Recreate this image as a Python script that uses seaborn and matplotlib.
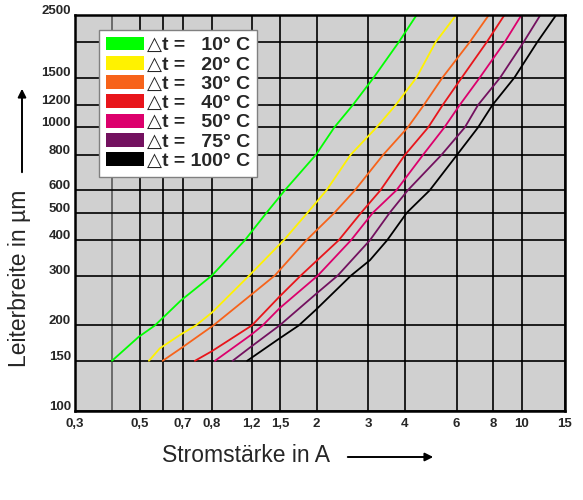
import pandas as pd
import matplotlib
matplotlib.use("Agg")
import matplotlib.pyplot as plt
from matplotlib.patches import Patch
from matplotlib.transforms import ScaledTranslation
import seaborn as sns

# legend labels and line colours, in legend order
LABELS = ["△t =   10° C", "△t =   20° C", "△t =   30° C", "△t =   40° C",
          "△t =   50° C", "△t =   75° C", "△t = 100° C"]
COLORS = ["#00ff00", "#fff200", "#f7631a", "#e8151b", "#dc006c", "#73115f", "#000000"]

# Stromstaerke (A) vs. Leiterbreite (um)
I_10 = [0.401, 0.494, 0.562, 0.689, 0.879, 1.139, 1.350, 1.558, 1.987, 2.297, 2.657, 3.13, 3.81, 4.39]
W_10 = [150, 182, 200, 245, 300, 400, 500, 600, 800, 1000, 1200, 1500, 2000, 2500]

I_20 = [0.536, 0.584, 0.689, 0.775, 0.879, 1.178, 1.546, 1.862, 2.161, 2.609, 3.20, 3.72, 4.38, 5.09, 5.99]
W_20 = [150, 166, 186, 200, 222, 300, 400, 500, 600, 800, 1000, 1200, 1500, 2000, 2500]

I_30 = [0.597, 0.689, 0.889, 1.193, 1.440, 1.847, 2.301, 2.70, 3.37, 4.09, 4.64, 5.37, 6.65, 7.74]
W_30 = [150, 166, 200, 256, 300, 400, 500, 600, 800, 1000, 1200, 1500, 2000, 2500]

I_40 = [0.769, 0.877, 1.203, 1.495, 1.766, 2.38, 2.836, 3.30, 4.00, 4.80, 5.38, 6.25, 7.60, 8.75]
W_40 = [150, 162, 200, 253, 300, 400, 500, 600, 800, 1000, 1200, 1500, 2000, 2500]

I_50 = [0.900, 1.193, 1.309, 1.495, 2.019, 2.62, 3.11, 3.74, 4.61, 5.45, 6.15, 7.20, 8.75, 10.0]
W_50 = [150, 185, 200, 230, 300, 400, 500, 600, 800, 1000, 1200, 1500, 2000, 2500]

I_75 = [1.034, 1.193, 1.495, 1.987, 2.36, 3.04, 3.55, 4.09, 5.33, 6.40, 7.10, 8.45, 10.15, 11.6]
W_75 = [150, 168, 200, 258, 300, 400, 500, 600, 800, 1000, 1200, 1500, 2000, 2500]

I_100 = [1.159, 1.495, 1.739, 1.987, 2.62, 3.04, 3.48, 4.06, 4.86, 6.02, 7.10, 7.95, 9.45, 11.3, 13.13]
W_100 = [150, 180, 200, 227, 300, 340, 400, 500, 600, 800, 1000, 1200, 1500, 2000, 2500]

# grid lines / tick labels as printed on the chart
X_TICKS = [0.3, 0.4, 0.5, 0.6, 0.7, 0.88, 1.2, 1.5, 2, 3, 4, 6, 8, 10, 14.05]
X_TICK_LABELS = ["0,3", "", "0,5", "", "0,7", "0,8", "1,2", "1,5", "2", "3", "4", "6", "8", "10", "15"]
Y_TICKS = [100, 150, 200, 300, 400, 500, 600, 800, 1000, 1200, 1500, 2000, 2500]
Y_TICK_LABELS = ["100", "150", "200", "300", "400", "500", "600", "800", "1000", "1200", "1500", "", "2500"]

currents = [I_10, I_20, I_30, I_40, I_50, I_75, I_100]
widths = [W_10, W_20, W_30, W_40, W_50, W_75, W_100]
df = pd.concat([pd.DataFrame({"strom": i, "breite": w, "dt": lab})
                for lab, i, w in zip(LABELS, currents, widths)], ignore_index=True)

sns.set_theme(style="white")
plt.rcParams["font.family"] = ["Liberation Sans", "DejaVu Sans"]

fig = plt.figure(figsize=(5.83, 5.0), dpi=100)
ax = fig.add_axes([0.1286, 0.1786, 0.8405, 0.792])
ax.set_facecolor("#d0d0d0")

sns.lineplot(data=df, x="strom", y="breite", hue="dt", hue_order=LABELS,
             palette=dict(zip(LABELS, COLORS)), estimator=None, lw=1.3,
             legend=False, ax=ax)

ax.set_xscale("log")
ax.set_yscale("log")
ax.set_xlim(0.3, 14.05)
ax.set_ylim(100, 2500)
ax.set_xticks(X_TICKS)
ax.set_xticklabels(X_TICK_LABELS)
ax.set_yticks(Y_TICKS)
ax.set_yticklabels(Y_TICK_LABELS)
ax.minorticks_off()
ax.set_xlabel("")
ax.set_ylabel("")

ax.set_axisbelow(True)
ax.grid(True, which="major", color="black", lw=1.2)
ax.get_xgridlines()[1].set_color("#5a5a5a")
for sp in ax.spines.values():
    sp.set_color("black")
    sp.set_linewidth(1.8)

ax.tick_params(axis="both", length=0, labelsize=9.5)
ax.tick_params(axis="x", pad=5)
ax.tick_params(axis="y", pad=3)
for lab in ax.get_xticklabels() + ax.get_yticklabels():
    lab.set_fontweight("bold")
for lab in ax.get_yticklabels():
    lab.set_transform(lab.get_transform() + ScaledTranslation(0, 4 / 72, fig.dpi_scale_trans))

handles = [Patch(facecolor=c, edgecolor="none", label=l) for l, c in zip(LABELS, COLORS)]
leg = ax.legend(handles=handles, loc="upper left", bbox_to_anchor=(0.049, 0.962),
                borderaxespad=0, prop=dict(family=["Liberation Sans", "DejaVu Sans"],
                                           weight="bold", size=14),
                handlelength=1.95, handleheight=0.72, handletextpad=0.15,
                labelspacing=0.08, borderpad=0.35, frameon=True, fancybox=False,
                edgecolor="#808080", facecolor="white", framealpha=1)
leg.get_frame().set_linewidth(1.0)

# axis titles with arrows
fig.text(246 / 583, 1 - 455 / 500, "Stromstärke in A", ha="center", va="center", fontsize=16.5)
fig.text(20 / 583, 1 - 278 / 500, "Leiterbreite in µm", rotation=90,
         ha="center", va="center", fontsize=16.5)
arrow = dict(arrowstyle="-|>", color="black", lw=1.4, mutation_scale=12)
ax.annotate("", xy=(436, 43), xytext=(345, 43), xycoords="figure pixels", arrowprops=arrow)
ax.annotate("", xy=(22, 414), xytext=(22, 325), xycoords="figure pixels", arrowprops=arrow)

fig.savefig("out.png", dpi=100)
